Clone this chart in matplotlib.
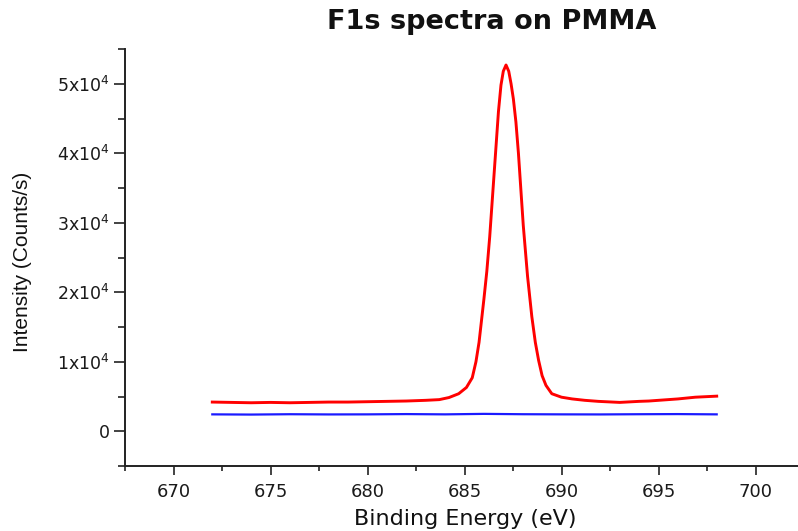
import matplotlib
matplotlib.use("Agg")
import matplotlib.pyplot as plt
from matplotlib.ticker import MultipleLocator, FuncFormatter

# Binding energy (eV) and intensity (counts/s)
red_x = [672.0, 673.0, 674.0, 675.0, 676.0, 677.0, 678.0, 679.0, 680.0, 681.0,
         682.0, 683.0, 683.7, 684.2, 684.7, 685.1, 685.4, 685.59, 685.75, 686.0,
         686.15, 686.3, 686.45, 686.6, 686.75, 686.88, 687.0, 687.14, 687.28,
         687.4, 687.52, 687.65, 687.78, 687.9, 688.03, 688.25, 688.47, 688.65,
         688.82, 689.0, 689.2, 689.5, 690.0, 690.55, 691.2, 691.9, 693.0, 694.0,
         694.5, 695.0, 696.0, 696.9, 698.0]
red_y = [4200, 4150, 4100, 4150, 4100, 4150, 4200, 4200, 4250, 4300,
         4350, 4450, 4550, 4850, 5400, 6300, 7700, 10000, 12800, 19000,
         23000, 28000, 34000, 40000, 46000, 49800, 51800, 52700, 51800,
         50000, 47800, 44500, 40000, 35000, 29600, 22300, 16500, 12800,
         10200, 8000, 6600, 5400, 4900, 4650, 4450, 4300, 4150, 4300,
         4350, 4450, 4650, 4900, 5050]

blue_x = [672.0, 674.0, 676.0, 678.0, 680.0, 682.0, 684.0, 686.0, 688.0,
          690.0, 692.0, 694.0, 696.0, 698.0]
blue_y = [2430, 2400, 2450, 2420, 2430, 2470, 2430, 2500, 2450,
          2430, 2420, 2450, 2470, 2430]

title = "F1s spectra on PMMA"
xlabel = "Binding Energy (eV)"
ylabel = "Intensity (Counts/s)"

W, H = 798, 531
fig = plt.figure(figsize=(W / 100, H / 100), dpi=100)
left_px, right_px, top_px, bottom_px = 125, 804, 49, 466
ax = fig.add_axes([left_px / W, 1 - bottom_px / H,
                   (right_px - left_px) / W, (bottom_px - top_px) / H])

ax.plot(red_x, red_y, color="#ff0000", lw=2.1, solid_joinstyle="round")
ax.plot(blue_x, blue_y, color="#1a1aff", lw=1.6)

ax.set_xlim(667.5, 702.5)
ax.set_ylim(-5000, 55000)

for s in ("top", "right"):
    ax.spines[s].set_visible(False)
for s in ("left", "bottom"):
    ax.spines[s].set_linewidth(1.4)
    ax.spines[s].set_color("#222222")

ax.xaxis.set_major_locator(MultipleLocator(5))
ax.xaxis.set_minor_locator(MultipleLocator(2.5))
ax.yaxis.set_major_locator(MultipleLocator(10000))
ax.yaxis.set_minor_locator(MultipleLocator(5000))


def yfmt(v, pos):
    n = int(round(v / 1e4))
    if n == 0:
        return "0"
    return f"{n}x10$^{{4}}$"


ax.yaxis.set_major_formatter(FuncFormatter(yfmt))

ax.tick_params(axis="x", which="major", direction="out", length=6.5, width=1.2,
               labelsize=13, pad=6, colors="#222222")
ax.tick_params(axis="x", which="minor", direction="out", length=3.6, width=1.2,
               colors="#222222")
ax.tick_params(axis="y", which="major", direction="out", length=8, width=1.2,
               labelsize=12.5, pad=3, colors="#222222")
ax.tick_params(axis="y", which="minor", direction="out", length=5, width=1.2,
               colors="#222222")
for lab in ax.get_xticklabels() + ax.get_yticklabels():
    lab.set_family("DejaVu Sans")
    lab.set_color("#1a1a1a")

fig.text(492 / W, 1 - 22 / H, title, ha="center", va="center",
         fontsize=19.5, fontweight="bold", family="DejaVu Sans", color="#111111")
fig.text(465 / W, 1 - 519 / H, xlabel, ha="center", va="center",
         fontsize=16, family="DejaVu Sans", color="#111111")
fig.text(23 / W, 1 - 262 / H, ylabel, ha="center", va="center", rotation=90,
         fontsize=15, family=["Liberation Sans Narrow", "Liberation Sans"],
         color="#111111")

fig.savefig("out.png", dpi=100)
